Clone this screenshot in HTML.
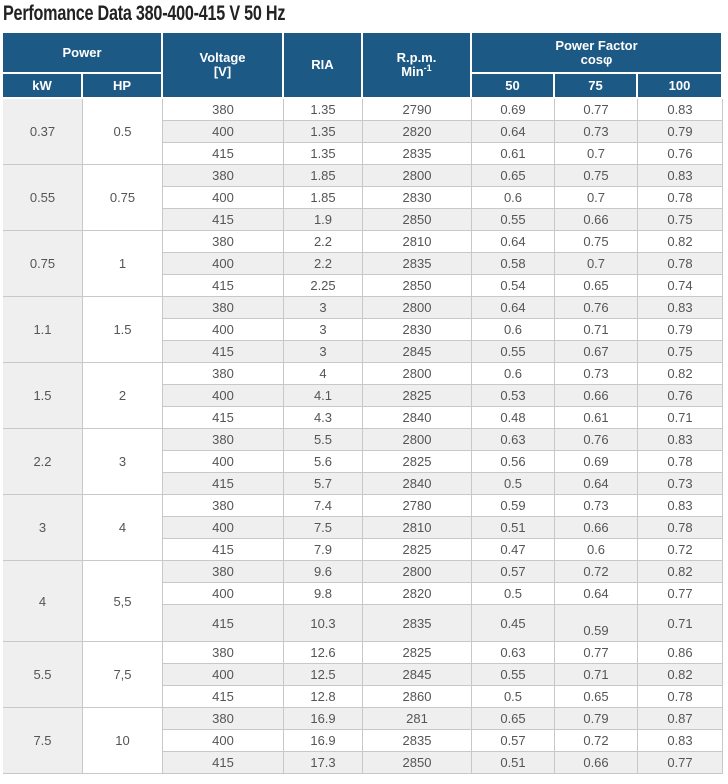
<!DOCTYPE html>
<html><head><meta charset="utf-8">
<style>
body{margin:0;width:728px;height:784px;background:#fff;position:relative;overflow:hidden;font-family:"Liberation Sans Narrow","Liberation Sans",sans-serif;}
.t{position:absolute;left:3px;top:2px;font-size:21px;font-weight:bold;color:#222;white-space:nowrap;transform:scaleX(0.77);transform-origin:left top;letter-spacing:-0.3px}
.c{position:absolute;box-sizing:border-box;display:flex;align-items:center;justify-content:center;text-align:center;font-size:13px;color:#555;}
.b{border-right:1px solid #c8c8c8;border-bottom:1px solid #c8c8c8;}
.h{background:#1d5985;color:#fff;font-weight:bold;border-right:2px solid #fff;border-bottom:2px solid #fff;font-size:13px;line-height:14px}
.sup{font-size:9px;position:relative;top:-5px;}
</style></head><body>
<div class="t">Perfomance Data 380-400-415 V 50 Hz</div>
<div id="tbl"></div>
<script>
const kW=["0.37","0.55","0.75","1.1","1.5","2.2","3","4","5.5","7.5"];
const HP=["0.5","0.75","1","1.5","2","3","4","5,5","7,5","10"];
const volts=["380","400","415"];
const ria=[["1.35","1.35","1.35"],["1.85","1.85","1.9"],["2.2","2.2","2.25"],["3","3","3"],["4","4.1","4.3"],["5.5","5.6","5.7"],["7.4","7.5","7.9"],["9.6","9.8","10.3"],["12.6","12.5","12.8"],["16.9","16.9","17.3"]];
const rpm=[["2790","2820","2835"],["2800","2830","2850"],["2810","2835","2850"],["2800","2830","2845"],["2800","2825","2840"],["2800","2825","2840"],["2780","2810","2825"],["2800","2820","2835"],["2825","2845","2860"],["281","2835","2850"]];
const pf50=[["0.69","0.64","0.61"],["0.65","0.6","0.55"],["0.64","0.58","0.54"],["0.64","0.6","0.55"],["0.6","0.53","0.48"],["0.63","0.56","0.5"],["0.59","0.51","0.47"],["0.57","0.5","0.45"],["0.63","0.55","0.5"],["0.65","0.57","0.51"]];
const pf75=[["0.77","0.73","0.7"],["0.75","0.7","0.66"],["0.75","0.7","0.65"],["0.76","0.71","0.67"],["0.73","0.66","0.61"],["0.76","0.69","0.64"],["0.73","0.66","0.6"],["0.72","0.64","0.59"],["0.77","0.71","0.65"],["0.79","0.72","0.66"]];
const pf100=[["0.83","0.79","0.76"],["0.83","0.78","0.75"],["0.82","0.78","0.74"],["0.83","0.79","0.75"],["0.82","0.76","0.71"],["0.83","0.78","0.73"],["0.83","0.78","0.72"],["0.82","0.77","0.71"],["0.86","0.82","0.78"],["0.87","0.83","0.77"]];
const X=[3,83,163,284,363,472,555,638,723];
const root=document.getElementById('tbl');
function cell(x1,x2,y1,y2,html,cls,bg){
  const d=document.createElement('div');
  d.className='c '+cls;
  d.style.left=x1+'px';d.style.top=y1+'px';d.style.width=(x2-x1)+'px';d.style.height=(y2-y1)+'px';
  if(bg)d.style.background=bg;
  d.innerHTML=html;root.appendChild(d);return d;
}
let h;
h=cell(X[0],X[2],33,74,'Power','h');


h=cell(X[0],X[1],74,99,'kW','h');


h=cell(X[1],X[2],74,99,'HP','h');


h=cell(X[2],X[3],33,99,'<span>Voltage<br>[V]</span>','h');


h=cell(X[3],X[4],33,99,'RIA','h');


h=cell(X[4],X[5],33,99,'<span>R.p.m.<br>Min<span class="sup">-1</span></span>','h');


h=cell(X[5],X[8],33,74,'<span>Power Factor<br>cos&phi;</span>','h');


h=cell(X[5],X[6],74,99,'50','h');


h=cell(X[6],X[7],74,99,'75','h');


h=cell(X[7],X[8],74,99,'100','h');


let y=99,ri=0;
for(let g=0;g<kW.length;g++){
  const hs=(g===7)?[22,22,37]:[22,22,22];
  const gy=y,gh=hs[0]+hs[1]+hs[2];
  let c=cell(X[0],X[1],gy,gy+gh,kW[g],'b','#efefef');
  
  
  c=cell(X[1],X[2],gy,gy+gh,HP[g],'b','#fff');
  
  
  for(let r=0;r<3;r++){
    const bg=(ri%2)?'#efefef':'#fff';
    const vals=[volts[r],ria[g][r],rpm[g][r],pf50[g][r],pf75[g][r],pf100[g][r]];
    const names=['voltage-cell','ria-cell','rpm-cell','pf50-cell','pf75-cell','pf100-cell'];
    for(let k=0;k<6;k++){
      const d=cell(X[k+2],X[k+3],y,y+hs[r],vals[k],'b',bg);
      if(g===7&&r===2&&k===4){d.style.alignItems='flex-end';d.style.paddingBottom='3px';}
      
      
    }
    y+=hs[r];ri++;
  }
}
</script>
</body></html>
